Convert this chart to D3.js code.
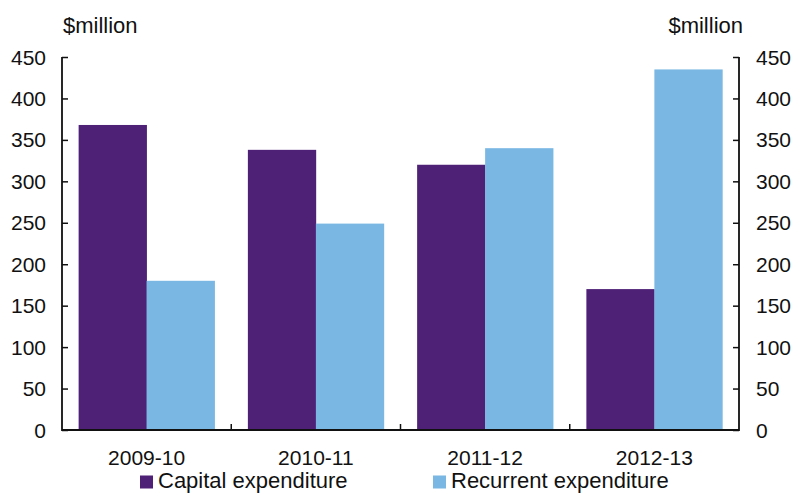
<!DOCTYPE html>
<html><head><meta charset="utf-8">
<script src="https://cdn.jsdelivr.net/npm/d3@7"></script>
<style>body{margin:0;background:#fff}svg{display:block}text{font-family:"Liberation Sans",Arial,sans-serif;fill:#111}</style>
</head><body><svg id="c" width="793" height="493"></svg>
<script>
const categories = ["2009-10","2010-11","2011-12","2012-13"];
const capital = [368, 338, 320, 170];
const recurrent = [180, 249, 340, 435];
const seriesNames = ["Capital expenditure","Recurrent expenditure"];
const yTicks = [0,50,100,150,200,250,300,350,400,450];
const colors = ["#4e2177","#7ab8e3"];

const svg = d3.select("#c");
const L = 62, R = 739, T = 57, B = 430;
const x = d3.scaleBand().domain(categories).range([L, R]);
const x1 = d3.scaleBand().domain([0,1]).range([0, 136]);
const y = d3.scaleLinear().domain([0,450]).range([B, T]);
const fs = 21, fw = 22;

const data = categories.map((c,i)=>({c, v:[capital[i], recurrent[i]]}));
const g = svg.append("g");
data.forEach(d=>{
  d.v.forEach((v,j)=>{
    g.append("rect")
      .attr("x", x(d.c) + (x.bandwidth()-136)/2 + x1(j))
      .attr("y", y(v)).attr("width", x1.bandwidth()+0.3).attr("height", B - y(v))
      .attr("fill", colors[j]);
  });
});

// left axis
const la = svg.append("g").attr("transform",`translate(${L},0)`)
  .call(d3.axisRight(y).tickValues(yTicks).tickSize(6).tickFormat(""));
la.select(".domain").remove();
la.selectAll("line").attr("stroke","#111").attr("stroke-width",1.5);
yTicks.forEach(t=>svg.append("text").attr("x",46).attr("y",y(t)).attr("dy","0.36em")
  .attr("text-anchor","end").attr("font-size",fs).text(t));
// right axis
const ra = svg.append("g").attr("transform",`translate(${R},0)`)
  .call(d3.axisLeft(y).tickValues(yTicks).tickSize(6).tickFormat(""));
ra.select(".domain").remove();
ra.selectAll("line").attr("stroke","#111").attr("stroke-width",1.5);
yTicks.forEach(t=>svg.append("text").attr("x",756).attr("y",y(t)).attr("dy","0.36em")
  .attr("text-anchor","start").attr("font-size",fs).text(t));

// axis lines
svg.append("path").attr("d",`M${L},${T}V${B}H${R}V${T}`).attr("fill","none")
  .attr("stroke","#111").attr("stroke-width",1.8);
// category ticks
categories.slice(1).forEach(c=>svg.append("line").attr("x1",x(c)).attr("x2",x(c))
  .attr("y1",B).attr("y2",B-6).attr("stroke","#111").attr("stroke-width",1.5));
categories.forEach(c=>svg.append("text").attr("x",x(c)+x.bandwidth()/2).attr("y",465)
  .attr("text-anchor","middle").attr("font-size",fs).text(c));

svg.append("text").attr("x",63).attr("y",33).attr("font-size",fw).text("$million");
svg.append("text").attr("x",743).attr("y",33).attr("text-anchor","end").attr("font-size",fw).text("$million");

// legend
const lx = [140, 433];
seriesNames.forEach((s,i)=>{
  svg.append("rect").attr("x",lx[i]).attr("y",475.5).attr("width",13).attr("height",13).attr("fill",colors[i]);
  svg.append("text").attr("x",lx[i]+18).attr("y",488).attr("font-size",fw).text(s);
});
</script></body></html>
